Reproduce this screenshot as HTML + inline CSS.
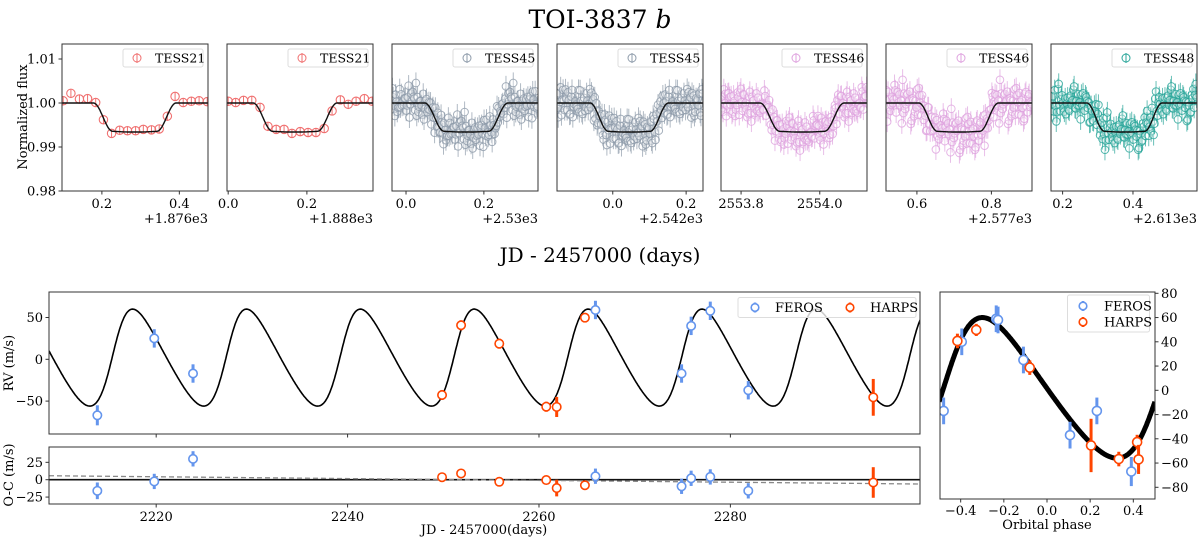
<!DOCTYPE html>
<html><head><meta charset="utf-8"><style>
body{margin:0;background:#fff}
svg{display:block;font-family:"DejaVu Serif","Liberation Serif",serif}
</style></head><body>
<svg id="fig" width="1200" height="539" viewBox="0 0 1200 539" xmlns="http://www.w3.org/2000/svg">
<text x="600" y="28" font-size="25" text-anchor="middle">TOI-3837 <tspan font-style="italic">b</tspan></text>
<text x="600" y="262" font-size="20" text-anchor="middle">JD - 2457000 (days)</text>
<text x="0" y="0" font-size="13" text-anchor="middle" transform="translate(27,117) rotate(-90)">Normalized flux</text>
<g id="topPanels"></g>
<g id="rvPanels"></g>
<g id="phPanel"></g>
</svg>
<script>
// ---------- data ----------
const tessLabels=["TESS21","TESS21","TESS45","TESS45","TESS46","TESS46","TESS48"];
const tessColors=["#f07070","#f07070","#8f9cab","#8f9cab","#dfa3df","#dfa3df","#2aa69a"];
const tessCenters=[0.285,0.17,0.155,0.045,2553.955,0.712,0.376];
const tessXmin=[0.097,-0.003,-0.036,-0.152,2553.749,0.517,0.167];
const tessXmax=[0.474,0.368,0.339,0.246,2554.12,0.909,0.582];
const tessTicks=[[0.2,0.4],[0.0,0.2],[0.0,0.2],[0.0,0.2],[2553.8,2554.0],[0.6,0.8],[0.2,0.4]];
const tessOffsets=["+1.876e3","+1.888e3","+2.53e3","+2.542e3","","+2.577e3","+2.613e3"];
const bin1X=[0.10,0.12,0.142,0.163,0.184,0.204,0.225,0.246,0.266,0.287,0.307,0.328,0.348,0.369,0.389,0.410,0.431,0.451,0.472];
const bin1Y=[1.0005,1.0022,1.0009,1.0010,1.0001,0.9962,0.9931,0.9938,0.9937,0.9937,0.9940,0.9939,0.9941,0.9970,1.0015,1.0001,1.0004,1.0005,1.0003];
const bin2X=[0.0,0.019,0.039,0.060,0.081,0.101,0.122,0.142,0.162,0.183,0.203,0.223,0.244,0.264,0.285,0.305,0.325,0.346,0.366];
const bin2Y=[1.0004,1.0001,1.0006,1.0006,0.9990,0.9947,0.9940,0.9940,0.9931,0.9935,0.9933,0.9933,0.9942,0.9982,1.0007,0.9997,1.0004,1.0010,1.0004];
const noise=[1.2,-0.8,2.1,-1.9,0.3,1.7,-2.6,0.9,-0.4,2.8,-1.3,0.6,-2.2,1.5,-0.1,2.4,-1.7,0.8,-3.0,1.1,0.2,-1.0,1.9,-2.4,0.5,3.1,-0.6,-1.5,1.3,-2.0,0.7,2.2,-1.1,-0.3,1.6,-2.8,0.4,1.0,-1.8,2.6,-0.9,0.1,-2.3,1.8,-0.5,2.0,-1.4,0.9,-2.5,1.4,0.0,-1.2,2.5,-0.7,1.1,-2.1,0.6,1.9,-1.6,-0.2];
const ferosT=[2213.85,2219.8,2223.85,2265.9,2274.9,2275.9,2277.9,2281.87];
const ferosV=[-67,25,-17,59,-17,40,58,-37];
const ferosE=[12,11,11,11,11,11,11,11];
const ferosOC=[-16,-2.5,30,5,-9.5,2,4,-16];
const harpsT=[2249.87,2251.86,2255.85,2260.76,2261.85,2264.8,2294.93];
const harpsV=[-42.7,40.7,18.7,-56.7,-57,49.8,-45.5];
const harpsE=[6,6,6,6,12,5,22];
const harpsOC=[3.6,9,-3,-0.5,-12,-8,-4];
const rvTicks=[50,0,-50], ocTicks=[25,0,-25], timeTicks=[2220,2240,2260,2280];
const phTicksX=[-0.4,-0.2,0.0,0.2,0.4], phTicksY=[80,60,40,20,0,-20,-40,-60,-80];
const orbit={P:11.9,t0:2209.2,K:58,e:0.2,w:-80,tp:-0.461};
const trend=[5.7,-6.2];
// ---------- helpers ----------
const NS="http://www.w3.org/2000/svg";
function el(tag,attrs,parent,txt){const e=document.createElementNS(NS,tag);for(const k in attrs)e.setAttribute(k,attrs[k]);if(txt!==undefined)e.textContent=txt;parent.appendChild(e);return e;}
function fmt(v,d){return v<0?"\u2212"+Math.abs(v).toFixed(d):v.toFixed(d);}
function transit(x,tc){const half=0.107,ing=0.05;const d=Math.abs(x-tc);if(d>=half)return 1;
 const bot=d2=>0.0060+0.0006*(1-(d2/half)*(d2/half));
 if(d>half-ing){const f=(half-d)/ing;return 1-bot(half-ing)*(1-Math.cos(Math.PI*f))/2;}
 return 1-bot(d);}
function rvModel(ph){const M=2*Math.PI*(ph-orbit.tp);let E=M;for(let i=0;i<12;i++)E=E-(E-orbit.e*Math.sin(E)-M)/(1-orbit.e*Math.cos(E));
 const nu=2*Math.atan2(Math.sqrt(1+orbit.e)*Math.sin(E/2),Math.sqrt(1-orbit.e)*Math.cos(E/2));const w=orbit.w*Math.PI/180;
 return orbit.K*(Math.cos(nu+w)+orbit.e*Math.cos(w));}
function phaseOf(t){let p=(t-orbit.t0)/orbit.P;return p-Math.round(p);}
// ---------- top transit panels ----------
const topG=document.getElementById("topPanels");
const pL=[62,227,392,557,721,886,1051], pW=146, pT=44, pB=191;
const fy=v=>103-(v-1)*4400;
for(let k=0;k<7;k++){
 const g=el("g",{},topG);
 
 
 const x0=pL[k],x1=x0+pW;const fx=v=>x0+(v-tessXmin[k])/(tessXmax[k]-tessXmin[k])*pW;
 const clipId="c"+k;const cp=el("clipPath",{id:clipId},g);el("rect",{x:x0,y:pT,width:pW,height:pB-pT},cp);
 const pts=el("g",{"clip-path":"url(#"+clipId+")"},g);
 const col=tessColors[k];
 if(k<2){const xs=k==0?bin1X:bin2X, ys=k==0?bin1Y:bin2Y;
  for(let i=0;i<xs.length;i++){const c=el("circle",{cx:fx(xs[i]),cy:fy(ys[i]),r:4.2,fill:"none",stroke:col,"stroke-width":1.1},pts);
   
   el("line",{x1:fx(xs[i]),x2:fx(xs[i]),y1:fy(ys[i])-4,y2:fy(ys[i])+4,stroke:col,"stroke-width":1},pts);}
 } else {
  const N=180;
  for(let i=0;i<N;i++){const xv=tessXmin[k]+(i+0.5)/N*(tessXmax[k]-tessXmin[k]);
   const yv=transit(xv,tessCenters[k])+noise[(i*7+k)%60]*0.0011+noise[(i*13+5)%60]*0.0006;
   el("line",{x1:fx(xv),x2:fx(xv),y1:fy(yv+0.0024),y2:fy(yv-0.0024),stroke:col,"stroke-width":1,opacity:0.7},pts);
   const c=el("circle",{cx:fx(xv),cy:fy(yv),r:3.8,fill:"#fff","fill-opacity":0.4,stroke:col,"stroke-width":1,opacity:0.8},pts);
   }
 }
 let pd="";for(let i=0;i<=300;i++){const xv=tessXmin[k]+i/300*(tessXmax[k]-tessXmin[k]);pd+=(i?"L":"M")+fx(xv).toFixed(1)+","+fy(transit(xv,tessCenters[k])).toFixed(1);}
 const m=el("path",{d:pd,fill:"none",stroke:"#111","stroke-width":1.4},pts);
 
 el("rect",{x:x0,y:pT,width:pW,height:pB-pT,fill:"none",stroke:"#333","stroke-width":1},g);
 const lg=el("g",{},g);
 el("rect",{x:x1-85,y:49,width:80,height:18,rx:2,fill:"#fff","fill-opacity":0.85,stroke:"#ddd"},lg);
 el("circle",{cx:x1-71,cy:58,r:4,fill:"none",stroke:col},lg);el("line",{x1:x1-71,x2:x1-71,y1:53,y2:63,stroke:col},lg);
 el("text",{x:x1-53,y:62.5,"font-size":12.5},lg,tessLabels[k]);
 tessTicks[k].forEach(t=>{const X=fx(t);el("line",{x1:X,x2:X,y1:pB,y2:pB+3.5,stroke:"#333"},g);
  const tt=el("text",{x:X,y:pB+17,"font-size":13,"text-anchor":"middle"},g,t.toFixed(1));});
 if(tessOffsets[k]){const o=el("text",{x:x1,y:pB+32,"font-size":13,"text-anchor":"end"},g,tessOffsets[k]);}
 if(k==0){[1.01,1.00,0.99,0.98].forEach(v=>{el("line",{x1:x0-3.5,x2:x0,y1:fy(v),y2:fy(v),stroke:"#333"},g);
  const t=el("text",{x:x0-6,y:fy(v)+4.5,"font-size":13,"text-anchor":"end"},g,v.toFixed(2));});}
}
// ---------- RV time series ----------
const rvG=document.getElementById("rvPanels");
const L=49,R=920,rT=292,rB=434,oT=447,oB=504;
const tx=t=>L+(t-2208.8)*9.57, ry=v=>359.3-v*0.836, oy=v=>479.7-v*0.695;
const cpr=el("clipPath",{id:"crv"},rvG);el("rect",{x:L,y:rT,width:R-L,height:rB-rT},cpr);
let rd="";for(let t=2208.8;t<=2299.85;t+=0.08){rd+=(rd?"L":"M")+tx(t).toFixed(1)+","+ry(rvModel(phaseOf(t))).toFixed(1);}
const rvm=el("path",{d:rd,fill:"none",stroke:"#000","stroke-width":1.6,"clip-path":"url(#crv)"},rvG);

function pt(g,X,Y,h,col,name,r,sw){el("line",{x1:X,x2:X,y1:Y-h,y2:Y+h,stroke:col,"stroke-width":sw||3},g);
 const c=el("circle",{cx:X,cy:Y,r:r||4.2,fill:"#fff",stroke:col,"stroke-width":1.6},g);}
const FC="#6495ed",HC="#ff4500";
ferosT.forEach((t,i)=>pt(rvG,tx(t),ry(ferosV[i]),ferosE[i]*0.836,FC,'feros-rv-point'));
harpsT.forEach((t,i)=>pt(rvG,tx(t),ry(harpsV[i]),harpsE[i]*0.836,HC,'harps-rv-point'));
el("rect",{x:L,y:rT,width:R-L,height:rB-rT,fill:"none",stroke:"#333"},rvG);
rvTicks.forEach(v=>{el("line",{x1:L-3.5,x2:L,y1:ry(v),y2:ry(v),stroke:"#333"},rvG);el("text",{x:L-6,y:ry(v)+4.5,"font-size":13,"text-anchor":"end"},rvG,fmt(v,0));});
const lgr=el("g",{},rvG);
el("rect",{x:738,y:297.5,width:178,height:20,rx:2,fill:"#fff","fill-opacity":0.8,stroke:"#ddd"},lgr);
pt(lgr,755,307.5,5,FC,'legend-feros-marker',3.8,2.5);el("text",{x:775,y:312,"font-size":13},lgr,"FEROS");
pt(lgr,850,307.5,5,HC,'legend-harps-marker',3.8,2.5);el("text",{x:870,y:312,"font-size":13},lgr,"HARPS");
const rvl=el("text",{x:0,y:0,"font-size":13,"text-anchor":"middle",transform:"translate(13,363) rotate(-90)"},rvG,"RV (m/s)");

el("line",{x1:L,x2:R,y1:oy(0),y2:oy(0),stroke:"#111","stroke-width":1.6},rvG);
el("line",{x1:L,x2:R,y1:oy(trend[0]),y2:oy(trend[1]),stroke:"#888","stroke-width":1.3,"stroke-dasharray":"5,3"},rvG);
ferosT.forEach((t,i)=>pt(rvG,tx(t),oy(ferosOC[i]),ferosE[i]*0.695,FC,'feros-residual-point'));
harpsT.forEach((t,i)=>pt(rvG,tx(t),oy(harpsOC[i]),harpsE[i]*0.695,HC,'harps-residual-point'));
el("rect",{x:L,y:oT,width:R-L,height:oB-oT,fill:"none",stroke:"#333"},rvG);
ocTicks.forEach(v=>{el("line",{x1:L-3.5,x2:L,y1:oy(v),y2:oy(v),stroke:"#333"},rvG);el("text",{x:L-6,y:oy(v)+4.5,"font-size":13,"text-anchor":"end"},rvG,fmt(v,0));});
timeTicks.forEach(t=>{el("line",{x1:tx(t),x2:tx(t),y1:rB,y2:rB+3.5,stroke:"#333"},rvG);el("line",{x1:tx(t),x2:tx(t),y1:oB,y2:oB+3.5,stroke:"#333"},rvG);
 el("text",{x:tx(t),y:oB+17,"font-size":13,"text-anchor":"middle"},rvG,String(t));});
const ocl=el("text",{x:0,y:0,"font-size":13,"text-anchor":"middle",transform:"translate(13,475) rotate(-90)"},rvG,"O-C (m/s)");

const jdl=el("text",{x:484,y:534,"font-size":13,"text-anchor":"middle"},rvG,"JD - 2457000(days)");

// ---------- phase-folded ----------
const phG=document.getElementById("phPanel");
const PL=940,PR=1155,PT=292,PB=499;
const px=p=>1047+p*215.8, py=v=>390.3-v*1.2125;
const cpp=el("clipPath",{id:"cph"},phG);el("rect",{x:PL,y:PT,width:PR-PL,height:PB-PT},cpp);
let hd="";for(let i=0;i<=400;i++){const p=-0.5+i/400;hd+=(i?"L":"M")+px(p).toFixed(1)+","+py(rvModel(p)).toFixed(1);}
const phm=el("path",{d:hd,fill:"none",stroke:"#000","stroke-width":5,"clip-path":"url(#cph)"},phG);

const gp=el("g",{"clip-path":"url(#cph)"},phG);
ferosT.forEach((t,i)=>pt(gp,px(phaseOf(t)),py(ferosV[i]),ferosE[i]*1.2125,FC,'feros-phase-point',4.5,3));
harpsT.forEach((t,i)=>pt(gp,px(phaseOf(t)),py(harpsV[i]),harpsE[i]*1.2125,HC,'harps-phase-point',4.5,3));
el("rect",{x:PL,y:PT,width:PR-PL,height:PB-PT,fill:"none",stroke:"#333"},phG);
phTicksY.forEach(v=>{el("line",{x1:PR,x2:PR+3.5,y1:py(v),y2:py(v),stroke:"#333"},phG);el("text",{x:PR+6,y:py(v)+4.5,"font-size":13},phG,fmt(v,0));});
phTicksX.forEach(p=>{el("line",{x1:px(p),x2:px(p),y1:PB,y2:PB+3.5,stroke:"#333"},phG);el("text",{x:px(p),y:PB+16,"font-size":13,"text-anchor":"middle"},phG,fmt(p,1));});
const opl=el("text",{x:1047,y:529,"font-size":13,"text-anchor":"middle"},phG,"Orbital phase");

const lgp=el("g",{},phG);
el("rect",{x:1067.5,y:295,width:82,height:37,rx:2,fill:"#fff","fill-opacity":0.8,stroke:"#ddd"},lgp);
pt(lgp,1083,306,5,FC,'legend-feros-marker',3.8,2.5);el("text",{x:1104,y:310.5,"font-size":13},lgp,"FEROS");
pt(lgp,1083,322,5,HC,'legend-harps-marker',3.8,2.5);el("text",{x:1104,y:326.5,"font-size":13},lgp,"HARPS");
</script>
</body></html>
